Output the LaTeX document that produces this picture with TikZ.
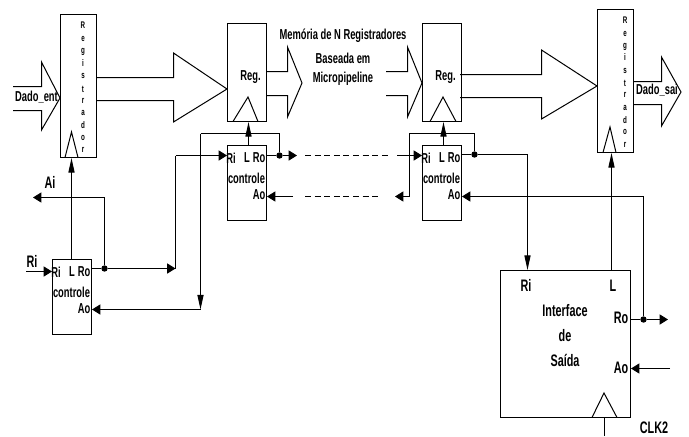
\documentclass[tikz,border=0pt]{standalone}
\usepackage{fontspec}
\setmainfont[FakeStretch=0.65]{Liberation Sans}
\usetikzlibrary{arrows.meta}
\tikzset{
  every node/.style={font=\bfseries\fontsize{10.8}{12}\selectfont,inner sep=0pt},
  box/.style 2 args={draw,line width=.75pt,minimum width=#1*0.75pt,minimum height=#2*0.75pt,inner sep=0pt},
  wire/.style={line width=.75pt},
  arr/.style={wire,-{Triangle[length=6.2pt,width=7.5pt]}},
  thin arr/.style={wire,-{Triangle[length=11pt,width=4.6pt]}},
  shp/.style={line width=.75pt,line join=miter},
  dot/.style={circle,fill=black,draw=none,minimum width=3.6pt,minimum height=4.8pt},
  tiny/.style={font=\bfseries\fontsize{7.2}{8}\selectfont},
  big/.style={font=\bfseries\fontsize{12.5}{14}\selectfont},
  dashwire/.style={wire,dash pattern=on 4.5pt off 2.7pt},
}
\begin{document}
\begin{tikzpicture}[x=0.75pt,y=-0.75pt]
\useasboundingbox (0,0) rectangle (689,436);
% boxes
\node[box={36}{143}] (r1) at (78.5,86) {};
\node[box={39}{98}] (r2) at (247,72.5) {};
\node[box={39}{98}] (r3) at (442,72.5) {};
\node[box={36}{143}] (r4) at (615.5,81) {};
\node[box={39}{75}] (c1) at (72,297) {};
\node[box={39}{75}] (c2) at (247,183) {};
\node[box={39}{75}] (c3) at (442,183) {};
\node[box={130}{147}] (ifs) at (565.5,344) {};
% clock triangles
\draw[shp] (65,157.5) -- (71.5,132) -- (78,157.5);
\draw[shp] (233,121.5) -- (248,97) -- (258,121.5);
\draw[shp] (430,121.5) -- (443,97) -- (456,121.5);
\draw[shp] (603,152.5) -- (610,127) -- (616,152.5);
\draw[shp] (592,417.5) -- (604,393) -- (617,417.5);
% bus arrows
\draw[shp] (13,86.5) -- (41.5,86.5) -- (41.5,62) -- (60,98) -- (41.5,130) -- (41.5,110.5) -- (13,110.5);
\draw[shp] (96.5,77.5) -- (173.5,77.5) -- (173.5,53) -- (227,89) -- (173.5,122) -- (173.5,100.5) -- (96.5,100.5);
\draw[shp] (266.5,71.5) -- (287.5,71.5) -- (287.5,47) -- (302,83) -- (287.5,117) -- (287.5,95.5) -- (266.5,95.5);
\draw[shp] (386,71.5) -- (407.5,71.5) -- (407.5,47) -- (422,83) -- (407.5,117) -- (407.5,95.5) -- (386,95.5);
\draw[shp] (460,74.5) -- (541.5,74.5) -- (541.5,50) -- (597,86) -- (541.5,119) -- (541.5,97.5) -- (460,97.5);
\draw[shp] (633.5,81.5) -- (661.5,81.5) -- (661.5,57) -- (681,92) -- (661.5,126) -- (661.5,104.5) -- (633.5,104.5);
% register letters
\foreach \c/\y [count=\i] in {R/25,e/38.5,g/51.5,i/63,s/76,t/89,r/101,a/113,d/125,o/138,r/150}
  \node[tiny] (la\i) at (83,\y) {\c};
\foreach \c/\y [count=\i] in {R/20,e/34,g/47,i/57,s/71,t/83,r/95,a/108,d/120,o/132,r/145}
  \node[tiny] (lb\i) at (625,\y) {\c};
% texts
\node (tdent) at (36.5,97.5) {Dado\_ent};
\node (tdsai) at (657,90) {Dado\_sai};
\node (tr2) at (250.5,77) {Reg.};
\node (tr3) at (445.5,77) {Reg.};
\node (tm1) at (343,36) {Memória de N Registradores};
\node (tm2) at (343,58) {Baseada em};
\node (tm3) at (343,79) {Micropipeline};
\node[big] (tai) at (50,182) {Ai};
\node[big] (tri) at (32,261) {Ri};
\foreach \n/\x/\y in {c1/0/0,c2/175/-114,c3/370/-114}{
  \node (\n ri) at (\x+56,\y+272) {Ri};
  \node (\n l) at (\x+72,\y+272) {L};
  \node (\n ro) at (\x+84,\y+272) {Ro};
  \node (\n t) at (\x+71.5,\y+292) {controle};
  \node (\n ao) at (\x+84,\y+309) {Ao};
}
\node[big] (iri) at (526,285.5) {Ri};
\node[big] (il) at (613,286) {L};
\node[big] (iro) at (621,318) {Ro};
\node[big] (iao) at (621,368) {Ao};
\node[big] (it1) at (565,311) {Interface};
\node[big] (it2) at (565,336) {de};
\node[big] (it3) at (565,360) {Saída};
\node[big] (tclk) at (654,428) {CLK2};
% junctions and free ends
\node[dot] (d1) at (104.5,268.5) {};
\node[dot] (d2) at (279.5,155.5) {};
\node[dot] (d3) at (474.5,154.5) {};
\node[dot] (d4) at (643.5,319.5) {};
\coordinate (ai) at (33,197.5);
\coordinate (riin) at (26,271.5);
\coordinate (a1) at (175.5,268.5);
\coordinate (a2) at (200.5,309.5);
\coordinate (a3) at (200.5,133.5);
\coordinate (a4) at (279.5,133.5);
\coordinate (a5) at (297,155.5);
\coordinate (a6) at (293,196.5);
\coordinate (a7) at (397,155.5);
\coordinate (a8) at (395,196.5);
\coordinate (a9) at (409.5,133.5);
\coordinate (a10) at (474.5,133.5);
\coordinate (a11) at (643.5,196.5);
\coordinate (a12) at (668,319.5);
\coordinate (a13) at (670,368.5);
\coordinate (a14) at (604.5,436);
% connectors
\draw[thin arr] (c1.north -| 71.5,0) -- (r1.south -| 71.5,0);
\draw[arr] (riin) -- (c1.west |- riin);
\draw[wire] (c1.east |- d1) -- (d1);
\draw[arr] (d1) -- (a1);
\draw[wire] (a1) -- (175.5,155.5);
\draw[arr] (175.5,155.5) -- (c2.west |- 0,155.5);
\draw[wire] (d1) -- (d1 |- ai);
\draw[arr] (d1 |- ai) -- (ai);
\draw[thin arr] (a3) -- (a2);
\draw[wire] (a3) -- (a4) -- (d2);
\draw[arr] (a2) -- (c1.east |- a2);
\draw[thin arr] (c2.north -| 248.5,0) -- (r2.south -| 248.5,0);
\draw[wire] (c2.east |- d2) -- (d2);
\draw[arr] (d2) -- (a5);
\draw[arr] (a6) -- (c2.east |- a6);
\draw[dashwire] (305,155.5) -- (390,155.5);
\draw[dashwire] (305,196.5) -- (379,196.5);
\draw[arr] (a7) -- (c3.west |- a7);
\draw[arr] (a9 |- a8) -- (a8);
\draw[wire] (a9 |- a8) -- (a9) -- (a10) -- (d3);
\draw[thin arr] (c3.north -| 443.5,0) -- (r3.south -| 443.5,0);
\draw[wire] (c3.east |- d3) -- (d3);
\draw[wire] (d3) -- (527.5,154.5);
\draw[thin arr] (527.5,154.5) -- (ifs.north -| 527.5,0);
\draw[arr] (a11) -- (c3.east |- a11);
\draw[wire] (d4) -- (a11);
\draw[thin arr] (ifs.north -| 611.5,0) -- (r4.south -| 611.5,0);
\draw[wire] (ifs.east |- d4) -- (d4);
\draw[arr] (d4) -- (a12);
\draw[arr] (a13) -- (ifs.east |- a13);
\draw[wire] (ifs.south -| a14) -- (a14);
\end{tikzpicture}
\end{document}
